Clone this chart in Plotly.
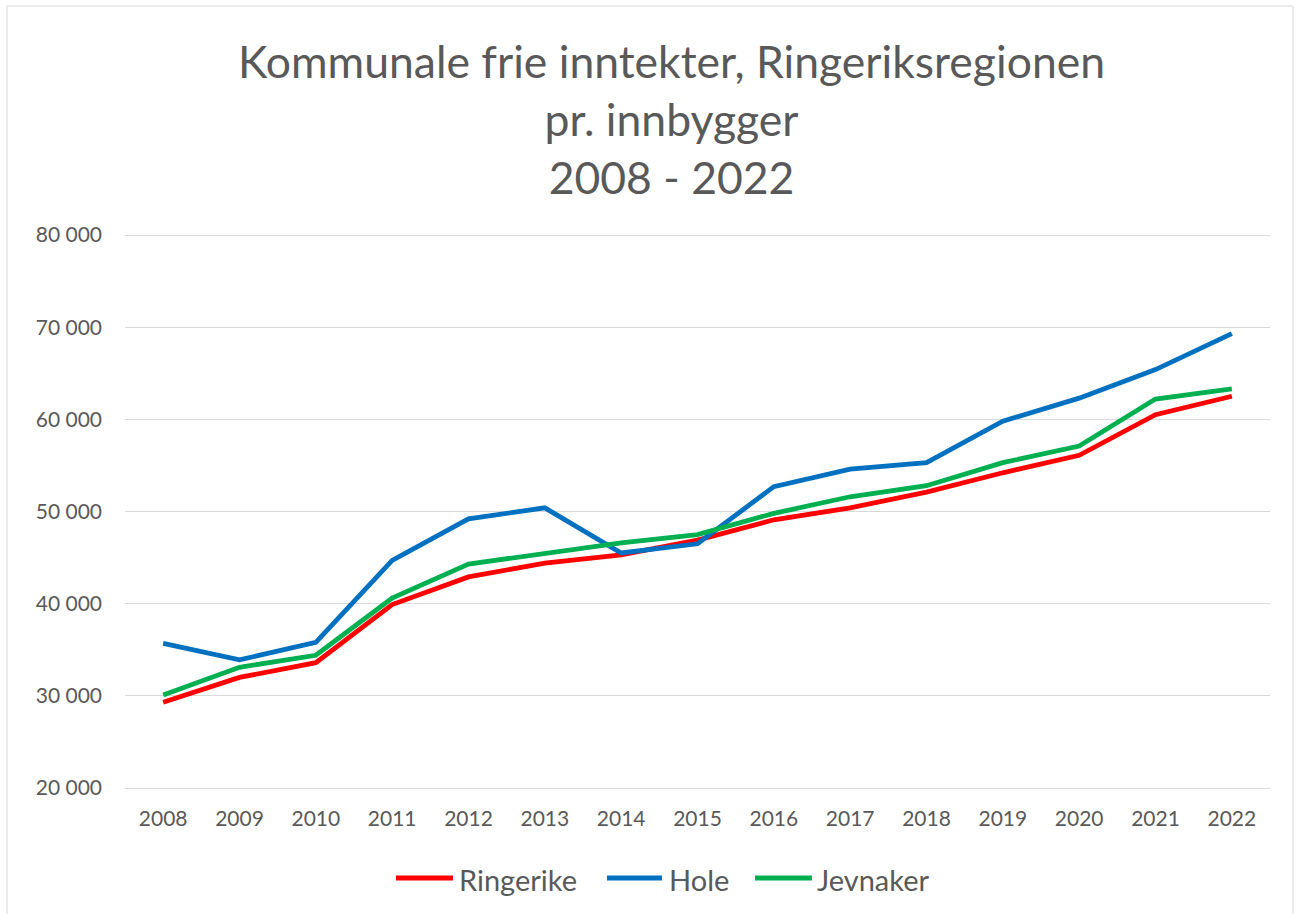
import plotly.graph_objects as go

years = [str(y) for y in range(2008, 2023)]
ringerike = [29300, 32000, 33600, 39900, 42900, 44400, 45300, 46900, 49100, 50400, 52100, 54200, 56100, 60500, 62500]
hole = [35700, 33900, 35800, 44700, 49200, 50400, 45500, 46500, 52700, 54600, 55300, 59800, 62300, 65400, 69300]
jevnaker = [30100, 33100, 34400, 40600, 44300, 45400, 46600, 47500, 49800, 51600, 52800, 55300, 57100, 62200, 63300]
y_tick_vals = [20000, 30000, 40000, 50000, 60000, 70000, 80000]

series = [("Ringerike", ringerike, "#FF0000"), ("Hole", hole, "#0070C0"), ("Jevnaker", jevnaker, "#00B050")]

W, H = 1299, 914
# pixel positions of the 80 000 and 20 000 gridlines in the original
Y80, Y20 = 235, 788
scale = (Y20 - Y80) / 60000.0  # px per unit
L, R = 125, 1270
T, B = Y80 - 3, Y20 + 3
pw, ph = R - L, B - T
ymin = 20000 - 3 / scale
ymax = 80000 + 3 / scale

FONT = "Lato"
GRAY = "#595959"

fig = go.Figure()
for name, vals, col in series:
    fig.add_trace(go.Scatter(x=years, y=vals, name=name, mode="lines",
                             line=dict(color=col, width=4.8)))

def px_x(x):
    return (x - L) / pw

def px_y(y):
    return (B - y) / ph

legend_pos = [(396, 453, 457), (607, 662, 667), (755, 812, 815)]
legend_y = 878
shapes = [
    dict(type="rect", xref="paper", yref="paper", x0=px_x(7), x1=px_x(1293), y0=px_y(930), y1=px_y(6),
         line=dict(color="#D9D9D9", width=1), layer="below")
]
annotations = [
    dict(text="Kommunale frie inntekter, Ringeriksregionen<br>pr. innbygger<br>2008 - 2022",
         xref="paper", yref="paper", x=px_x(671), y=px_y(118), xanchor="center", yanchor="middle",
         showarrow=False, font=dict(size=44.5, color=GRAY, family=FONT), align="center")
]
for (name, _, col), (x0, x1, xt) in zip(series, legend_pos):
    shapes.append(dict(type="line", xref="paper", yref="paper", x0=px_x(x0), x1=px_x(x1),
                       y0=px_y(legend_y), y1=px_y(legend_y), line=dict(color=col, width=4.8)))
    annotations.append(dict(text=name, xref="paper", yref="paper", x=px_x(xt), y=px_y(legend_y + 1),
                            xanchor="left", yanchor="middle", showarrow=False,
                            font=dict(size=29, color=GRAY, family=FONT)))

fig.update_layout(
    width=W, height=H,
    margin=dict(l=L, r=W - R, t=T, b=H - B, pad=0),
    paper_bgcolor="white", plot_bgcolor="white",
    separators=", ",
    font=dict(family=FONT, color=GRAY, size=21),
    showlegend=False,
    xaxis=dict(type="category", range=[-0.5, 14.5], showgrid=False, showline=False,
               ticks="", tickfont=dict(size=21, color=GRAY), ticklabelstandoff=13),
    yaxis=dict(range=[ymin, ymax], tickmode="array", tickvals=y_tick_vals, tickformat=",d", showgrid=True,
               gridcolor="#D9D9D9", gridwidth=1.3, zeroline=False, showline=False,
               ticks="", tickfont=dict(size=21, color=GRAY), ticklabelstandoff=22),
    annotations=annotations,
    shapes=shapes,
)

fig.write_html("out.html", config={"displayModeBar": False},
               post_script="document.body.style.margin='0';")
